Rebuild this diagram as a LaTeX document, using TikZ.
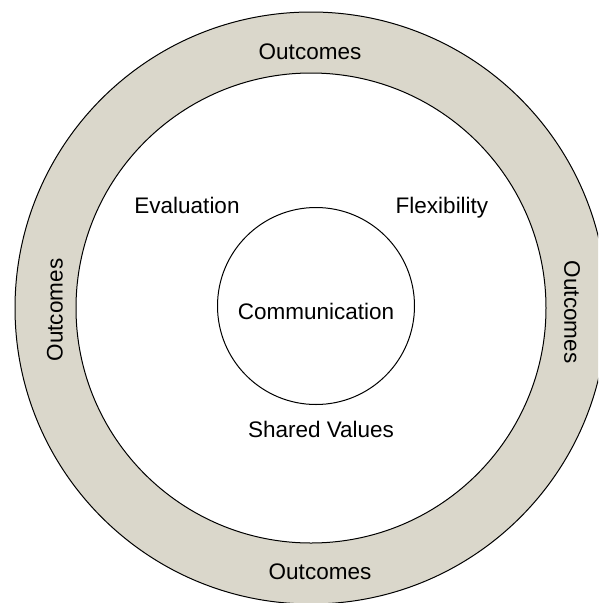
\documentclass[tikz,border=0pt]{standalone}
\usepackage{fontspec}
\setmainfont{Liberation Sans}
\definecolor{ringfill}{RGB}{218,215,203}
\begin{document}
\begin{tikzpicture}[x=1pt,y=-1pt,
  lbl/.style={font=\fontsize{22.5}{26}\selectfont, text=black, inner sep=0pt},
  blbl/.style={lbl, anchor=base},
  edge/.style={draw=black, line width=1pt}]
\useasboundingbox (0,0) rectangle (598,603);
\clip (0,0) rectangle (598,603);
% outer band
\fill[ringfill, even odd rule] (311,308) circle[radius=296] (311,308) circle[radius=235];
\draw[edge] (311,308) circle[radius=296];
\draw[edge] (311,308) circle[radius=235];
% centre circle
\node[edge, circle, minimum size=197pt, inner sep=0pt] (core) at (316,306) {};
\node[blbl] (comm) at (316,319) {Communication};
% labels inside the band
\node[blbl] (otop) at (310,59) {Outcomes};
\node[blbl] (obot) at (320,579) {Outcomes};
\node[lbl, rotate=90] (oleft) at (55,310) {Outcomes};
\node[lbl, rotate=-90] (oright) at (572,312) {Outcomes};
% labels in the white zone
\node[blbl] (eval) at (187,213) {Evaluation};
\node[blbl] (flex) at (442,213) {Flexibility};
\node[blbl] (shared) at (321,437) {Shared Values};
\end{tikzpicture}
\end{document}
